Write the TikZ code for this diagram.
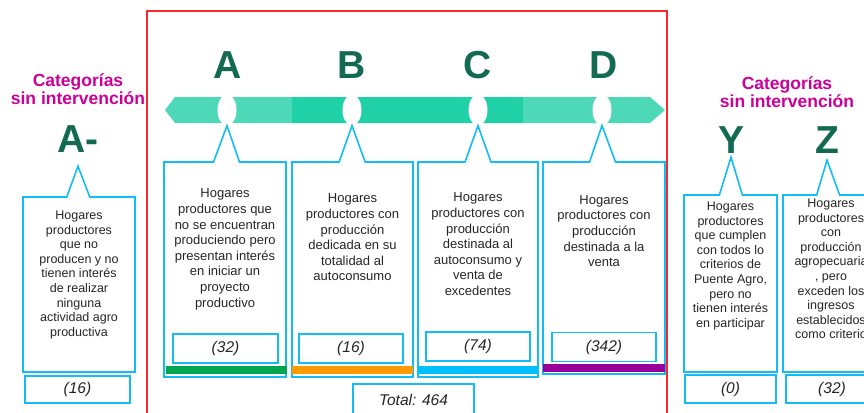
\documentclass[tikz,border=0pt]{standalone}
\usepackage{fontspec}
\setmainfont{Liberation Sans}
\usetikzlibrary{shapes.geometric,shapes.callouts,positioning}

\definecolor{teallight}{RGB}{77,217,183}
\definecolor{tealdark}{RGB}{32,208,166}
\definecolor{letgreen}{RGB}{18,106,82}
\definecolor{boxblue}{RGB}{20,188,245}
\definecolor{catmag}{RGB}{204,0,153}
\definecolor{framered}{RGB}{255,40,40}
\definecolor{barA}{RGB}{0,166,80}
\definecolor{barB}{RGB}{255,153,0}
\definecolor{barC}{RGB}{0,191,255}
\definecolor{barD}{RGB}{153,0,153}

\begin{document}
\begin{tikzpicture}[x=1pt, y=-1pt,
    letter/.style={text=letgreen, font=\fontsize{39}{39}\selectfont\bfseries, inner sep=0pt},
    cat/.style={text=catmag, font=\fontsize{17.5}{18}\selectfont\bfseries, align=center, inner sep=0pt},
    gap/.style={ellipse, fill=white, minimum width=19pt, minimum height=31pt, inner sep=0pt},
    callbox/.style={rectangle callout, draw=boxblue, line width=1.6pt, callout pointer width=26pt, inner sep=0pt},
    sidebox/.style={callbox, callout pointer width=23pt},
    desc/.style={align=center, inner sep=0pt, text=black!85, font=\fontsize{13}{15.6}\selectfont},
    sidedesc/.style={desc, font=\fontsize{12.5}{14.6}\selectfont},
    valbox/.style={draw=boxblue, line width=1.3pt, text=black!85, inner sep=0pt,
        font=\fontsize{15.5}{15.5}\selectfont\itshape},
]
    \path[use as bounding box, fill=white] (0,0) rectangle (864,412);

    % frame round the four categories
    \draw[framered, line width=1.8pt] (147,11) rectangle (667,430);

    % letters
    \node[letter, anchor=base] (A) at (228,78) {A};
    \node[letter, anchor=base] (B) at (352,78) {B};
    \node[letter, anchor=base] (C) at (478,78) {C};
    \node[letter, anchor=base] (D) at (604,78) {D};

    % band
    \begin{scope}
        \clip (165,110) -- (175,97) -- (650,97) -- (665,110) -- (650,123) -- (175,123) -- cycle;
        \fill[teallight] (160,90) rectangle (292,130);
        \fill[tealdark] (292,90) rectangle (523,130);
        \fill[teallight] (523,90) rectangle (670,130);
    \end{scope}
    \node[gap] (gA) at (227,110) {};
    \node[gap] (gB) at (352,110) {};
    \node[gap] (gC) at (478,110) {};
    \node[gap] (gD) at (602,110) {};

    % callouts A to D
    \node[callbox, minimum width=122pt, minimum height=215pt,
        callout absolute pointer={(gA.south)}] (boxA) at (225,269.5) {};
    \node[callbox, minimum width=121pt, minimum height=215pt,
        callout absolute pointer={(gB.south)}] (boxB) at (352.5,269.5) {};
    \node[callbox, minimum width=120pt, minimum height=215pt,
        callout absolute pointer={(gC.south)}] (boxC) at (478,269.5) {};
    \node[callbox, minimum width=122pt, minimum height=212pt,
        callout absolute pointer={(gD.south)}] (boxD) at (604,268) {};

    \node[desc, below=27.5pt of boxA.north] (tA) {Hogares\\productores que\\no se encuentran\\produciendo pero\\presentan interés\\en iniciar un\\proyecto\\productivo};
    \node[desc, below=32.5pt of boxB.north] (tB) {Hogares\\productores con\\producción\\dedicada en su\\totalidad al\\autoconsumo};
    \node[desc, below=31.5pt of boxC.north] (tC) {Hogares\\productores con\\producción\\destinada al\\autoconsumo y\\venta de\\excedentes};
    \node[desc, below=34pt of boxD.north] (tD) {Hogares\\productores con\\producción\\destinada a la\\venta};

    \node[valbox, minimum width=105pt, minimum height=29pt] (vA) at (225.5,348.5) {(32)};
    \node[valbox, minimum width=104pt, minimum height=29pt] (vB) at (351,348.5) {(16)};
    \node[valbox, minimum width=104pt, minimum height=29pt] (vC) at (478,346.5) {(74)};
    \node[valbox, minimum width=104pt, minimum height=29pt] (vD) at (604,347) {(342)};

    \fill[barA] (166,366) rectangle (287,374);
    \fill[barB] (292,366) rectangle (413,374);
    \fill[barC] (418,366) rectangle (538,374);
    \fill[barD] (543,364) rectangle (665,372);

    \node[valbox, minimum width=121pt, minimum height=32pt] (total) at (413.5,400) {Total: 464};

    % categories without intervention
    \node[cat] (catL) at (78,89.5) {Categorías\\sin intervención};
    \node[cat] (catR) at (787,92) {Categorías\\sin intervención};

    \node[letter, anchor=base] (Am) at (78,152) {A-};
    \node[letter, anchor=base] (Y) at (731,153) {Y};
    \node[letter, anchor=base] (Z) at (827,153) {Z};

    \node[sidebox, minimum width=112pt, minimum height=175pt,
        callout absolute pointer={([yshift=-14pt]Am.south)}] (boxAm) at (79,284.5) {};
    \node[sidebox, minimum width=93pt, minimum height=177pt,
        callout absolute pointer={([yshift=-4pt]Y.south)}] (boxY) at (730.5,283.5) {};
    \node[sidebox, minimum width=96pt, minimum height=177pt,
        callout absolute pointer={([yshift=-7pt]Z.south)}] (boxZ) at (831,283.5) {};

    \node[sidedesc, below=14.5pt of boxAm.north] (tAm) {Hogares\\productores\\que no\\producen y no\\tienen interés\\de realizar\\ninguna\\actividad agro\\productiva};
    \node[sidedesc, below=7.5pt of boxY.north] (tY) {Hogares\\productores\\que cumplen\\con todos lo\\criterios de\\Puente Agro,\\pero no\\tienen interés\\en participar};
    \node[sidedesc, below=4.5pt of boxZ.north] (tZ) {Hogares\\productores\\con\\producción\\agropecuaria\\, pero\\exceden los\\ingresos\\establecidos\\como criterio};

    \node[valbox, minimum width=105pt, minimum height=27pt] (vAm) at (77.5,389.5) {(16)};
    \node[valbox, minimum width=91pt, minimum height=28pt] (vY) at (730.5,389) {(0)};
    \node[valbox, minimum width=92pt, minimum height=28pt] (vZ) at (832,389) {(32)};
\end{tikzpicture}
\end{document}
